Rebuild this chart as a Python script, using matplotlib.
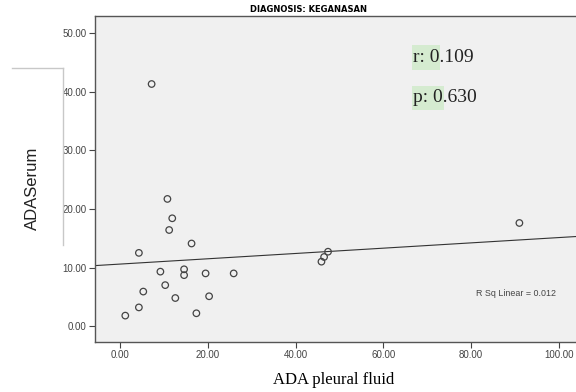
import matplotlib.pyplot as plt
import matplotlib.patches as patches
import numpy as np

# ADA pleural fluid vs ADA serum, diagnosis: keganasan (n = 22)
ada_pleural = [1.2, 4.3, 5.3, 4.3, 7.2, 9.2, 10.3, 10.8, 11.9, 11.2, 12.6,
               14.6, 14.6, 16.3, 17.4, 19.5, 20.3, 25.9, 45.9, 46.5, 47.4, 91.0]
ada_serum = [1.8, 3.2, 5.9, 12.5, 41.3, 9.3, 7.0, 21.7, 18.4, 16.4, 4.8,
             9.7, 8.7, 14.1, 2.2, 9.0, 5.1, 9.0, 11.0, 11.8, 12.7, 17.6]
x_ticks = [0, 20, 40, 60, 80, 100]
y_ticks = [0, 10, 20, 30, 40, 50]
r_text = 'r: 0.109'
p_text = 'p: 0.630'
rsq_text = 'R Sq Linear = 0.012'

W, H = 576, 392
fig = plt.figure(figsize=(W / 100, H / 100), dpi=100)
plt.rcParams['font.family'] = ['Liberation Sans', 'DejaVu Sans']

def fx(px):
    return px / W

def fy(py):
    return 1 - py / H

ax = fig.add_axes([fx(95), fy(342), fx(576) - fx(95), fy(16) - fy(342)])
ax.set_facecolor('#f0f0f0')
ax.set_xlim(-5.7, 103.9)
ax.set_ylim(-2.7, 52.9)

for side in ['left', 'bottom', 'top']:
    ax.spines[side].set_color('#555555')
    ax.spines[side].set_linewidth(1.0)
ax.spines['right'].set_visible(False)

ax.set_xticks(x_ticks)
ax.set_yticks(y_ticks)
ax.set_xticklabels([f'{v:.2f}' for v in x_ticks])
ax.set_yticklabels([f'{v:.2f}' for v in y_ticks])
ax.tick_params(direction='out', length=4, width=0.8, color='#444444',
               labelsize=7, labelcolor='#444444', pad=2)

# fit line
slope, icpt = np.polyfit(ada_pleural, ada_serum, 1)
xs = np.array(ax.get_xlim())
ax.plot(xs, icpt + slope * xs, color='#333333', lw=0.8, zorder=2)

ax.scatter(ada_pleural, ada_serum, s=22, facecolors='none',
           edgecolors='#444444', linewidths=0.9, zorder=3)

fig.text(fx(476), fy(294), rsq_text, fontsize=6.4, color='#444444',
         va='center', ha='left')

# title
fig.text(fx(309), fy(10), 'DIAGNOSIS: KEGANASAN', fontsize=6,
         fontweight='bold', ha='center', va='center',
         family=['Liberation Sans Narrow', 'DejaVu Sans'])

# y label and the stray bracket lines
fig.text(fx(32), fy(188), 'ADASerum', rotation=90, fontsize=12,
         ha='center', va='center', color='#222222')
fig.add_artist(plt.Line2D([fx(12), fx(63)], [fy(68), fy(68)],
                          color='#c8c8c8', lw=1, transform=fig.transFigure))
fig.add_artist(plt.Line2D([fx(63), fx(63)], [fy(68), fy(245)],
                          color='#c8c8c8', lw=1, transform=fig.transFigure))

# x label
fig.text(fx(334), fy(380), 'ADA pleural fluid', fontsize=12,
         family='Liberation Serif', ha='center', va='center')

# r and p with green highlight
for (x0, y0, x1, y1) in [(412, 45, 440, 70), (412, 86, 444, 110)]:
    fig.add_artist(patches.Rectangle((fx(x0), fy(y1)), fx(x1) - fx(x0),
                                     fy(y0) - fy(y1), transform=fig.transFigure,
                                     facecolor='#d5ebd0', edgecolor='none'))
fig.text(fx(413), fy(57), r_text, fontsize=14, family='Liberation Serif',
         ha='left', va='center', color='#222222')
fig.text(fx(413), fy(97), p_text, fontsize=14, family='Liberation Serif',
         ha='left', va='center', color='#222222')

fig.savefig('out.png', dpi=100)
